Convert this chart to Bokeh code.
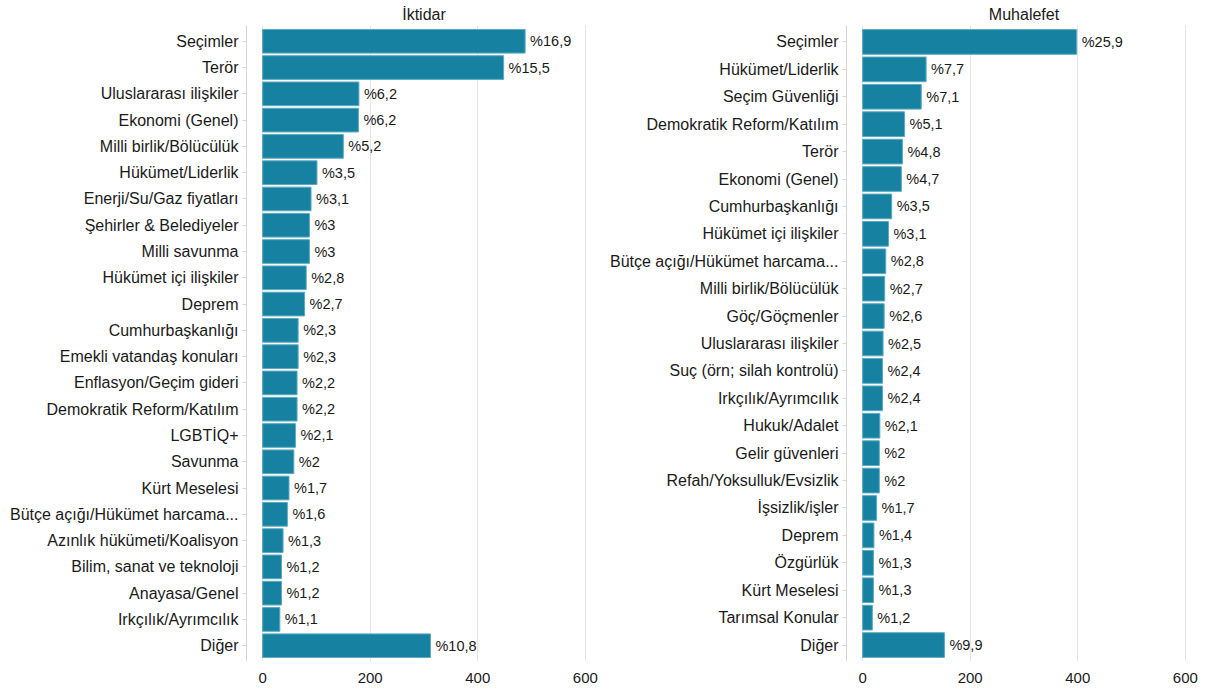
from bokeh.plotting import figure
from bokeh.models import FactorRange, Range1d, FixedTicker
from bokeh.layouts import row
from bokeh.core.properties import value
from bokeh.embed import file_html
from bokeh.resources import INLINE

# ---- data ----
left_title = "İktidar"
left_cats = ["Seçimler", "Terör", "Uluslararası ilişkiler", "Ekonomi (Genel)",
             "Milli birlik/Bölücülük", "Hükümet/Liderlik", "Enerji/Su/Gaz fiyatları",
             "Şehirler & Belediyeler", "Milli savunma", "Hükümet içi ilişkiler", "Deprem",
             "Cumhurbaşkanlığı", "Emekli vatandaş konuları", "Enflasyon/Geçim gideri",
             "Demokratik Reform/Katılım", "LGBTİQ+", "Savunma", "Kürt Meselesi",
             "Bütçe açığı/Hükümet harcama...", "Azınlık hükümeti/Koalisyon",
             "Bilim, sanat ve teknoloji", "Anayasa/Genel", "Irkçılık/Ayrımcılık", "Diğer"]
left_vals = [488, 448, 179, 178, 150, 101, 90, 87, 87, 81, 78, 66, 66, 64, 64, 61, 58,
             49, 46, 38, 35, 35, 32, 312]
left_labels = ["%16,9", "%15,5", "%6,2", "%6,2", "%5,2", "%3,5", "%3,1", "%3", "%3",
               "%2,8", "%2,7", "%2,3", "%2,3", "%2,2", "%2,2", "%2,1", "%2", "%1,7",
               "%1,6", "%1,3", "%1,2", "%1,2", "%1,1", "%10,8"]

right_title = "Muhalefet"
right_cats = ["Seçimler", "Hükümet/Liderlik", "Seçim Güvenliği", "Demokratik Reform/Katılım",
              "Terör", "Ekonomi (Genel)", "Cumhurbaşkanlığı", "Hükümet içi ilişkiler",
              "Bütçe açığı/Hükümet harcama...", "Milli birlik/Bölücülük", "Göç/Göçmenler",
              "Uluslararası ilişkiler", "Suç (örn; silah kontrolü)", "Irkçılık/Ayrımcılık",
              "Hukuk/Adalet", "Gelir güvenleri", "Refah/Yoksulluk/Evsizlik", "İşsizlik/işler",
              "Deprem", "Özgürlük", "Kürt Meselesi", "Tarımsal Konular", "Diğer"]
right_vals = [398, 118, 109, 78, 74, 72, 54, 48, 43, 41, 40, 38, 37, 37, 32, 31, 31, 26,
              21, 20, 20, 18, 152]
right_labels = ["%25,9", "%7,7", "%7,1", "%5,1", "%4,8", "%4,7", "%3,5", "%3,1", "%2,8",
                "%2,7", "%2,6", "%2,5", "%2,4", "%2,4", "%2,1", "%2", "%2", "%1,7", "%1,4",
                "%1,3", "%1,3", "%1,2", "%9,9"]

x_ticks = [0, 200, 400, 600]

FONT = "Liberation Sans"
BAR = "#1681a1"
EDGE = "#5aaac2"
TXT = "#1a1a1a"


def panel(title, cats, vals, labels, border_left):
    p = figure(
        y_range=FactorRange(factors=cats[::-1], range_padding=0.1,
                            range_padding_units="absolute"),
        x_range=Range1d(-30, 630),
        frame_width=355, frame_height=636,
        min_border_left=border_left, min_border_right=0,
        min_border_top=25, min_border_bottom=24,
        toolbar_location=None, output_backend="svg", title=title,
    )
    p.title.align = "center"
    p.title.text_font = FONT
    p.title.text_font_size = "16px"
    p.title.text_font_style = "normal"
    p.title.text_color = TXT
    p.title.standoff = 5
    p.outline_line_color = None

    p.hbar(y=cats, left=0, right=vals, height=0.9, fill_color=BAR,
           line_color=EDGE, line_width=1)
    p.text(x=vals, y=cats, text=labels, x_offset=5, text_align="left",
           text_baseline="middle", text_font=value(FONT), text_font_size="14.5px",
           text_color=TXT)

    p.xaxis.ticker = FixedTicker(ticks=x_ticks)
    p.xaxis.axis_line_color = None
    p.xaxis.major_tick_line_color = None
    p.xaxis.minor_tick_line_color = None
    p.xaxis.major_label_standoff = 5
    p.xaxis.major_label_text_font = FONT
    p.xaxis.major_label_text_font_size = "15px"
    p.xaxis.major_label_text_color = TXT

    p.yaxis.axis_line_color = "#d6d6d6"
    p.yaxis.major_tick_line_color = "#d6d6d6"
    p.yaxis.major_tick_out = 4
    p.yaxis.major_tick_in = 0
    p.yaxis.major_label_standoff = 4
    p.yaxis.major_label_text_font = FONT
    p.yaxis.major_label_text_font_size = "16px"
    p.yaxis.major_label_text_color = TXT

    p.xgrid.ticker = FixedTicker(ticks=x_ticks)
    p.xgrid.grid_line_color = "#e6e6e6"
    p.ygrid.grid_line_color = None
    return p


p1 = panel(left_title, left_cats, left_vals, left_labels, 246)
p2 = panel(right_title, right_cats, right_vals, right_labels, 245)
layout = row(p1, p2)

open("out.html", "w").write(file_html(layout, INLINE))
